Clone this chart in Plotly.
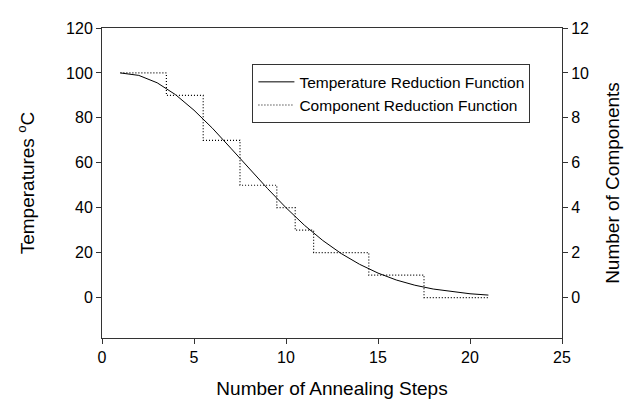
import plotly.graph_objects as go

# Temperature reduction function (left axis, °C) at each annealing step
steps = [1, 2, 3, 4, 5, 6, 7, 8, 9, 10, 11, 12, 13, 14, 15, 16, 17, 18, 19, 20, 21]
temperature = [100, 98.9, 95.6, 90.3, 83.4, 75.4, 66.5, 57.4, 48.5, 40.0, 32.2,
               25.4, 19.6, 14.8, 10.9, 7.8, 5.5, 3.8, 2.6, 1.7, 1.1]

# Component reduction function (right axis), step changes
comp_x = [1, 3.5, 5.5, 7.5, 9.5, 10.5, 11.5, 14.5, 17.5, 21]
components = [10, 9, 7, 5, 4, 3, 2, 1, 0, 0]

x_ticks = [0, 5, 10, 15, 20, 25]
y_ticks = [0, 20, 40, 60, 80, 100, 120]
y2_ticks = [0, 2, 4, 6, 8, 10, 12]

FONT = "Arial, Liberation Sans, sans-serif"

fig = go.Figure()
fig.add_trace(go.Scatter(
    x=steps, y=temperature, mode="lines", name="Temperature Reduction Function",
    line=dict(color="black", width=1), yaxis="y"))
fig.add_trace(go.Scatter(
    x=comp_x, y=components, mode="lines", name="Component Reduction Function",
    line=dict(color="black", width=1.2, dash="1px,2px", shape="hv"), yaxis="y2"))

axis_common = dict(showgrid=False, zeroline=False, showline=True, linecolor="#333",
                   linewidth=1, ticks="outside", ticklen=5, tickcolor="#333",
                   tickfont=dict(family=FONT, size=16, color="black"))

fig.update_layout(
    width=635, height=400,
    margin=dict(l=94, r=81, t=15, b=69),
    paper_bgcolor="white", plot_bgcolor="white",
    font=dict(family=FONT, color="black"),
    xaxis=dict(range=[0, 25], tickvals=x_ticks, mirror=True,
               title=dict(text="Number of Annealing Steps",
                          font=dict(family=FONT, size=19), standoff=16),
               **axis_common),
    yaxis=dict(range=[-18, 120], tickvals=y_ticks,
               title=dict(text="Temperatures <sup>o</sup>C",
                          font=dict(family=FONT, size=19), standoff=26),
               **axis_common),
    yaxis2=dict(range=[-1.8, 12], tickvals=y2_ticks, overlaying="y", side="right",
                title=dict(text="Number of Components",
                           font=dict(family=FONT, size=19), standoff=17),
                **axis_common),
    legend=dict(x=0.327, y=0.883, xanchor="left", yanchor="top",
                bgcolor="white", bordercolor="#333", borderwidth=1,
                font=dict(family=FONT, size=15.5, color="black"),
                itemwidth=36, tracegroupgap=0),
    showlegend=True,
)

fig.write_html("out.html")
